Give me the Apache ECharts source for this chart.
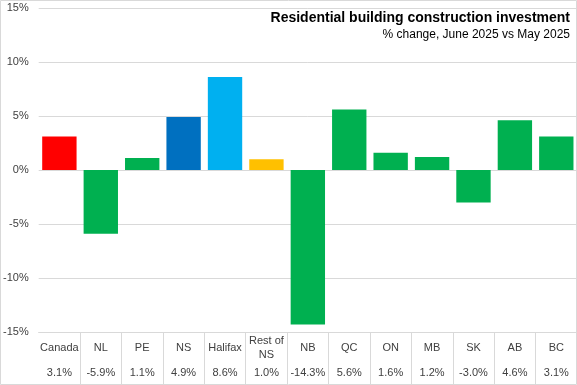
<!DOCTYPE html>
<html>
<head>
<meta charset="utf-8">
<script src="https://cdn.jsdelivr.net/npm/echarts@6/dist/echarts.min.js"></script>
<style>
html,body{margin:0;padding:0;background:#fff;}
#chart{width:577px;height:385px;}
</style>
</head>
<body>
<div id="chart"></div>
<script>
var categories = ['Canada', 'NL', 'PE', 'NS', 'Halifax', 'Rest of\nNS', 'NB', 'QC', 'ON', 'MB', 'SK', 'AB', 'BC'];
var values = [3.1, -5.9, 1.1, 4.9, 8.6, 1.0, -14.3, 5.6, 1.6, 1.2, -3.0, 4.6, 3.1];
var barColors = ['#FF0000', '#00B050', '#00B050', '#0070C0', '#00B0F0', '#FFC000', '#00B050', '#00B050', '#00B050', '#00B050', '#00B050', '#00B050', '#00B050'];
var yTicks = { min: -15, max: 15, interval: 5 };
var titleText = 'Residential building construction investment';
var subtitleText = '% change, June 2025 vs May 2025';

var chart = echarts.init(document.getElementById('chart'));
var labelFont = 'Liberation Sans, Arial, sans-serif';
var option = {
  animation: false,
  title: [{
    text: titleText,
    right: 7, top: 11, padding: 0,
    textStyle: { fontFamily: labelFont, fontSize: 14, fontWeight: 'bold', color: '#000' }
  }, {
    text: subtitleText,
    right: 7, top: 29, padding: 0,
    textStyle: { fontFamily: labelFont, fontSize: 12, fontWeight: 'normal', color: '#000' }
  }],
  graphic: [{
    type: 'rect', silent: true, z: 100,
    shape: { x: 0.5, y: 0.5, width: 576, height: 384 },
    style: { fill: null, stroke: '#d9d9d9', lineWidth: 1 }
  }],
  grid: { left: 37, right: 0, top: 8, bottom: 53, containLabel: false },
  xAxis: [{
    type: 'category',
    data: categories,
    position: 'bottom',
    axisLine: { onZero: false, lineStyle: { color: '#d9d9d9', width: 1 } },
    axisTick: { show: true, length: 52, lineStyle: { color: '#d9d9d9' },
      interval: function (i) { return i !== 0; } },
    axisLabel: { interval: 0, margin: 16, verticalAlign: 'middle', lineHeight: 14,
      fontFamily: labelFont, fontSize: 11, color: '#404040' }
  }, {
    type: 'category',
    data: values.map(function (v) { return v.toFixed(1) + '%'; }),
    position: 'bottom',
    axisLine: { show: false, onZero: false },
    axisTick: { show: false },
    axisLabel: { interval: 0, margin: 41, verticalAlign: 'middle',
      fontFamily: labelFont, fontSize: 11, color: '#404040' }
  }],
  yAxis: {
    type: 'value',
    min: yTicks.min, max: yTicks.max, interval: yTicks.interval,
    axisLine: { show: false },
    axisTick: { show: false },
    splitLine: { lineStyle: { color: '#d9d9d9', width: 1 } },
    axisLabel: { formatter: '{value}%', margin: 10, fontFamily: labelFont, fontSize: 11, color: '#404040' }
  },
  series: [{
    type: 'bar',
    barCategoryGap: '17%',
    data: values.map(function (v, i) { return { value: v, itemStyle: { color: barColors[i] } }; })
  }]
};
chart.setOption(option);
</script>
</body>
</html>
